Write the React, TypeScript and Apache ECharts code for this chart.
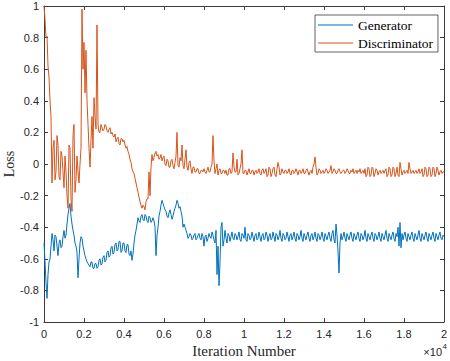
import React, { useEffect, useRef } from "react";
import * as echarts from "echarts";

const iterationStep = 50;
const xTickLabels = ["0", "0.2", "0.4", "0.6", "0.8", "1", "1.2", "1.4", "1.6", "1.8", "2"];
const yAxisTitle = "Loss";

const generator: number[] = [
  -0.50, -0.62, -0.75, -0.85, -0.70, -0.62, -0.60, -0.52, -0.44, -0.48,
  -0.55, -0.45, -0.46, -0.52, -0.58, -0.50, -0.48, -0.53, -0.52, -0.46,
  -0.42, -0.47, -0.45, -0.38, -0.32, -0.28, -0.25, -0.33, -0.38, -0.42,
  -0.45, -0.50, -0.52, -0.56, -0.72, -0.60, -0.50, -0.46, -0.47, -0.52,
  -0.55, -0.58, -0.60, -0.62, -0.63, -0.64, -0.65, -0.62, -0.62, -0.66,
  -0.66, -0.63, -0.63, -0.66, -0.65, -0.61, -0.60, -0.64, -0.63, -0.59,
  -0.58, -0.62, -0.61, -0.56, -0.55, -0.59, -0.58, -0.53, -0.52, -0.57,
  -0.56, -0.51, -0.50, -0.55, -0.54, -0.49, -0.49, -0.56, -0.55, -0.50,
  -0.50, -0.55, -0.56, -0.51, -0.51, -0.57, -0.58, -0.55, -0.61, -0.57,
  -0.50, -0.45, -0.42, -0.38, -0.34, -0.36, -0.37, -0.33, -0.32, -0.35,
  -0.36, -0.32, -0.33, -0.36, -0.37, -0.33, -0.34, -0.37, -0.36, -0.34,
  -0.36, -0.40, -0.58, -0.45, -0.40, -0.33, -0.30, -0.26, -0.23, -0.25,
  -0.27, -0.29, -0.30, -0.33, -0.34, -0.31, -0.29, -0.32, -0.35, -0.33,
  -0.30, -0.28, -0.26, -0.23, -0.25, -0.28, -0.27, -0.30, -0.33, -0.40,
  -0.38, -0.40, -0.42, -0.44, -0.47, -0.46, -0.44, -0.45, -0.48, -0.47,
  -0.45, -0.44, -0.48, -0.47, -0.45, -0.44, -0.47, -0.48, -0.44, -0.46,
  -0.52, -0.46, -0.45, -0.49, -0.47, -0.44, -0.46, -0.47, -0.43, -0.45,
  -0.48, -0.50, -0.42, -0.70, -0.52, -0.77, -0.62, -0.40, -0.37, -0.52,
  -0.48, -0.42, -0.47, -0.50, -0.44, -0.45, -0.49, -0.46, -0.43, -0.47,
  -0.48, -0.44, -0.45, -0.48, -0.46, -0.43, -0.48, -0.49, -0.44, -0.45,
  -0.47, -0.40, -0.48, -0.49, -0.44, -0.45, -0.48, -0.47, -0.43, -0.46,
  -0.49, -0.45, -0.44, -0.48, -0.47, -0.43, -0.46, -0.49, -0.45, -0.44,
  -0.48, -0.47, -0.43, -0.45, -0.49, -0.46, -0.44, -0.48, -0.47, -0.43,
  -0.46, -0.49, -0.44, -0.45, -0.48, -0.46, -0.42, -0.47, -0.49, -0.44,
  -0.45, -0.48, -0.47, -0.43, -0.46, -0.49, -0.45, -0.44, -0.48, -0.46,
  -0.43, -0.47, -0.49, -0.44, -0.45, -0.48, -0.46, -0.42, -0.47, -0.49,
  -0.44, -0.46, -0.48, -0.45, -0.43, -0.47, -0.49, -0.45, -0.44, -0.48,
  -0.46, -0.43, -0.47, -0.49, -0.44, -0.45, -0.48, -0.46, -0.43, -0.47,
  -0.49, -0.44, -0.46, -0.48, -0.45, -0.43, -0.47, -0.49, -0.44, -0.42,
  -0.48, -0.50, -0.38, -0.45, -0.55, -0.69, -0.50, -0.44, -0.48, -0.46,
  -0.43, -0.47, -0.49, -0.44, -0.46, -0.48, -0.45, -0.43, -0.47, -0.49,
  -0.44, -0.46, -0.48, -0.45, -0.43, -0.47, -0.49, -0.44, -0.45, -0.48,
  -0.46, -0.42, -0.47, -0.49, -0.44, -0.46, -0.48, -0.45, -0.43, -0.47,
  -0.49, -0.44, -0.45, -0.48, -0.46, -0.43, -0.47, -0.49, -0.44, -0.46,
  -0.48, -0.45, -0.42, -0.47, -0.49, -0.44, -0.46, -0.48, -0.45, -0.43,
  -0.47, -0.49, -0.44, -0.46, -0.40, -0.52, -0.37, -0.53, -0.44, -0.48,
  -0.45, -0.43, -0.47, -0.49, -0.44, -0.46, -0.48, -0.45, -0.43, -0.47,
  -0.49, -0.44, -0.46, -0.48, -0.45, -0.42, -0.47, -0.49, -0.44, -0.46,
  -0.48, -0.45, -0.43, -0.47, -0.49, -0.44, -0.46, -0.48, -0.45, -0.43,
  -0.47, -0.49, -0.44, -0.46, -0.48, -0.45, -0.43, -0.47, -0.48, -0.45,
  -0.46,
];

const discriminator: number[] = [
  1.0, 0.92, 0.80, 0.81, 0.62, 0.55, 0.40, 0.30, -0.12, 0.10,
  0.15, -0.10, -0.05, 0.18, 0.12, -0.08, -0.10, 0.08, 0.05, -0.05,
  -0.15, 0.05, -0.05, -0.20, -0.28, 0.12, 0.10, -0.22, -0.30, 0.18,
  0.25, -0.18, -0.10, 0.05, -0.05, -0.12, 0.00, 0.10, 0.98, 0.60,
  0.77, 0.45, 0.72, 0.40, 0.25, 0.10, -0.02, 0.15, 0.30, 0.10,
  0.42, 0.30, 0.22, 0.88, 0.25, 0.20, 0.20, 0.25, 0.23, 0.21,
  0.22, 0.25, 0.24, 0.21, 0.20, 0.22, 0.23, 0.19, 0.20, 0.18,
  0.17, 0.19, 0.14, 0.16, 0.17, 0.13, 0.12, 0.16, 0.16, 0.14,
  0.15, 0.12, 0.10, 0.11, 0.08, 0.06, 0.03, 0.01, -0.03, -0.05,
  -0.06, -0.09, -0.12, -0.15, -0.18, -0.21, -0.24, -0.26, -0.28, -0.26,
  -0.27, -0.29, -0.24, -0.22, -0.22, -0.05, -0.20, -0.02, 0.06, 0.02,
  0.04, 0.07, 0.08, 0.05, 0.06, 0.03, 0.04, 0.06, 0.02, 0.04,
  0.05, 0.00, -0.01, 0.03, 0.02, -0.02, -0.02, 0.02, 0.03, -0.01,
  -0.03, 0.01, 0.05, 0.20, -0.01, -0.02, 0.04, 0.02, 0.12, -0.01,
  -0.03, 0.03, 0.09, -0.02, -0.04, 0.01, 0.02, -0.03, -0.06, -0.02,
  -0.02, -0.05, -0.05, -0.03, -0.03, -0.06, -0.06, -0.04, -0.04, -0.05,
  -0.03, -0.05, -0.06, -0.04, -0.02, -0.05, -0.05, -0.02, 0.00, 0.18,
  0.02, -0.06, -0.03, 0.00, -0.07, -0.04, -0.03, -0.06, -0.06, -0.04,
  -0.04, -0.06, -0.04, -0.07, -0.07, -0.03, -0.03, -0.06, -0.05, 0.07,
  -0.02, -0.05, -0.05, 0.03, -0.07, -0.06, -0.03, 0.00, 0.09, -0.06,
  -0.06, -0.04, -0.04, -0.07, -0.05, -0.03, -0.06, -0.06, -0.04, -0.04,
  -0.07, -0.05, -0.04, -0.06, -0.05, -0.03, -0.06, -0.07, -0.04, -0.03,
  -0.06, -0.05, -0.03, -0.08, -0.07, -0.02, -0.03, -0.08, -0.06, -0.03,
  -0.02, -0.07, -0.08, -0.03, 0.01, -0.02, -0.07, -0.06, -0.03, -0.05,
  -0.06, -0.04, -0.04, -0.06, -0.05, -0.03, -0.06, -0.07, -0.04, -0.04,
  -0.06, -0.05, -0.03, -0.05, -0.07, -0.04, -0.04, -0.06, -0.05, -0.03,
  -0.06, -0.06, -0.04, -0.03, -0.05, -0.07, -0.05, -0.04, -0.06, -0.02,
  0.00, 0.045, -0.02, -0.07, -0.06, -0.03, -0.04, -0.06, -0.05, -0.04,
  -0.06, -0.05, -0.03, -0.04, -0.06, -0.05, -0.04, -0.01, -0.06, -0.05,
  -0.03, -0.04, -0.06, -0.06, -0.04, -0.03, -0.05, -0.06, -0.05, -0.04,
  -0.04, -0.06, -0.05, -0.03, -0.04, -0.06, -0.06, -0.04, -0.05, -0.03,
  -0.06, -0.05, -0.04, -0.06, -0.04, -0.05, -0.03, -0.06, -0.05, -0.04,
  -0.06, -0.03, -0.08, -0.07, -0.02, -0.03, -0.08, -0.07, -0.02, -0.03,
  -0.08, -0.06, -0.03, -0.04, -0.07, -0.05, -0.04, -0.06, -0.05, -0.04,
  -0.06, -0.04, -0.03, -0.08, -0.07, -0.02, -0.03, -0.08, -0.07, -0.02,
  -0.03, -0.08, -0.06, -0.02, -0.07, -0.08, 0.01, -0.03, -0.07, -0.05,
  -0.04, -0.06, -0.05, -0.04, -0.06, 0.01, -0.03, -0.06, -0.05, -0.04,
  -0.06, -0.05, -0.04, -0.06, -0.05, -0.03, -0.06, -0.05, -0.03, -0.08,
  -0.07, -0.02, -0.03, -0.08, -0.07, -0.02, -0.03, -0.08, -0.07, -0.02,
  -0.03, -0.08, -0.06, -0.02, -0.04, -0.07, -0.05, -0.04, -0.06, -0.05,
  -0.05,
];

const AXIS_COLOR = "#3a3a3a";
const SANS = "Liberation Sans";
const SERIF = "Liberation Serif";

function toPoints(values: number[]): [number, number][] {
  return values.map((v, i) => [i * iterationStep, v]);
}

export default function App() {
  const ref = useRef<HTMLDivElement>(null);
  useEffect(() => {
    if (!ref.current) return;
    const chart = echarts.init(ref.current, undefined, { renderer: "svg" });
    const axisCommon = {
      axisLine: { show: true, onZero: false, lineStyle: { color: AXIS_COLOR, width: 1 } },
      axisTick: { show: true, inside: true, length: 4, lineStyle: { color: AXIS_COLOR, width: 1 } },
      splitLine: { show: false },
    };
    chart.setOption({
      animation: false,
      backgroundColor: "#fff",
      grid: {
        left: 44,
        right: 6,
        top: 6,
        bottom: 39,
        containLabel: false,
        outerBoundsMode: "none",
      },
      legend: {
        orient: "vertical",
        left: 315,
        top: 15,
        icon: "rect",
        itemWidth: 35,
        itemHeight: 1.2,
        itemGap: 2,
        padding: [2, 5, 1, 3],
        borderColor: AXIS_COLOR,
        borderWidth: 0.8,
        borderRadius: 0,
        backgroundColor: "#fff",
        textStyle: { fontFamily: SERIF, fontSize: 13.5, color: "#000", lineHeight: 16 },
        data: ["Generator", "Discriminator"],
      },
      xAxis: [
        {
          type: "value",
          position: "bottom",
          min: 0,
          max: 20000,
          interval: 2000,
          ...axisCommon,
          axisLabel: {
            show: true,
            margin: 6,
            color: "#262626",
            fontFamily: SANS,
            fontSize: 11,
            formatter: (v: number) => xTickLabels[Math.round(v / 2000)] ?? "",
          },
          name: "Iteration Number",
          nameLocation: "middle",
          nameGap: 19,
          nameTextStyle: { fontFamily: SERIF, fontSize: 15, color: "#262626" },
        },
        {
          type: "value",
          position: "top",
          min: 0,
          max: 20000,
          interval: 2000,
          ...axisCommon,
          axisLabel: { show: false },
        },
      ],
      yAxis: [
        {
          type: "value",
          position: "left",
          min: -1,
          max: 1,
          interval: 0.2,
          ...axisCommon,
          axisLabel: {
            show: true,
            margin: 5,
            color: "#262626",
            fontFamily: SANS,
            fontSize: 11,
            formatter: (v: number) => String(+v.toFixed(1)),
          },
        },
        {
          type: "value",
          position: "right",
          min: -1,
          max: 1,
          interval: 0.2,
          ...axisCommon,
          axisLabel: { show: false },
        },
      ],
      graphic: [
        {
          type: "text",
          x: 9.5,
          y: 164,
          rotation: Math.PI / 2,
          style: {
            text: yAxisTitle,
            fontFamily: SERIF,
            fontSize: 14,
            fill: "#262626",
            align: "center",
            verticalAlign: "middle",
          },
        },
        {
          type: "text",
          right: 8,
          top: 346,
          style: { text: "×10", fontFamily: SANS, fontSize: 11, fill: "#262626" },
        },
        {
          type: "text",
          right: 3,
          top: 342,
          style: { text: "4", fontFamily: SANS, fontSize: 8, fill: "#262626" },
        },
      ],
      series: [
        {
          name: "Generator",
          type: "line",
          symbol: "none",
          showSymbol: false,
          color: "#0072BD",
          lineStyle: { color: "#0072BD", width: 1 },
          data: toPoints(generator),
        },
        {
          name: "Discriminator",
          type: "line",
          symbol: "none",
          showSymbol: false,
          color: "#D95319",
          lineStyle: { color: "#D95319", width: 1 },
          data: toPoints(discriminator),
        },
      ],
    });
    return () => chart.dispose();
  }, []);
  return (
    <div
      ref={ref}
      style={{ position: "fixed", left: 0, top: 0, width: 450, height: 361 }}
    />
  );
}
